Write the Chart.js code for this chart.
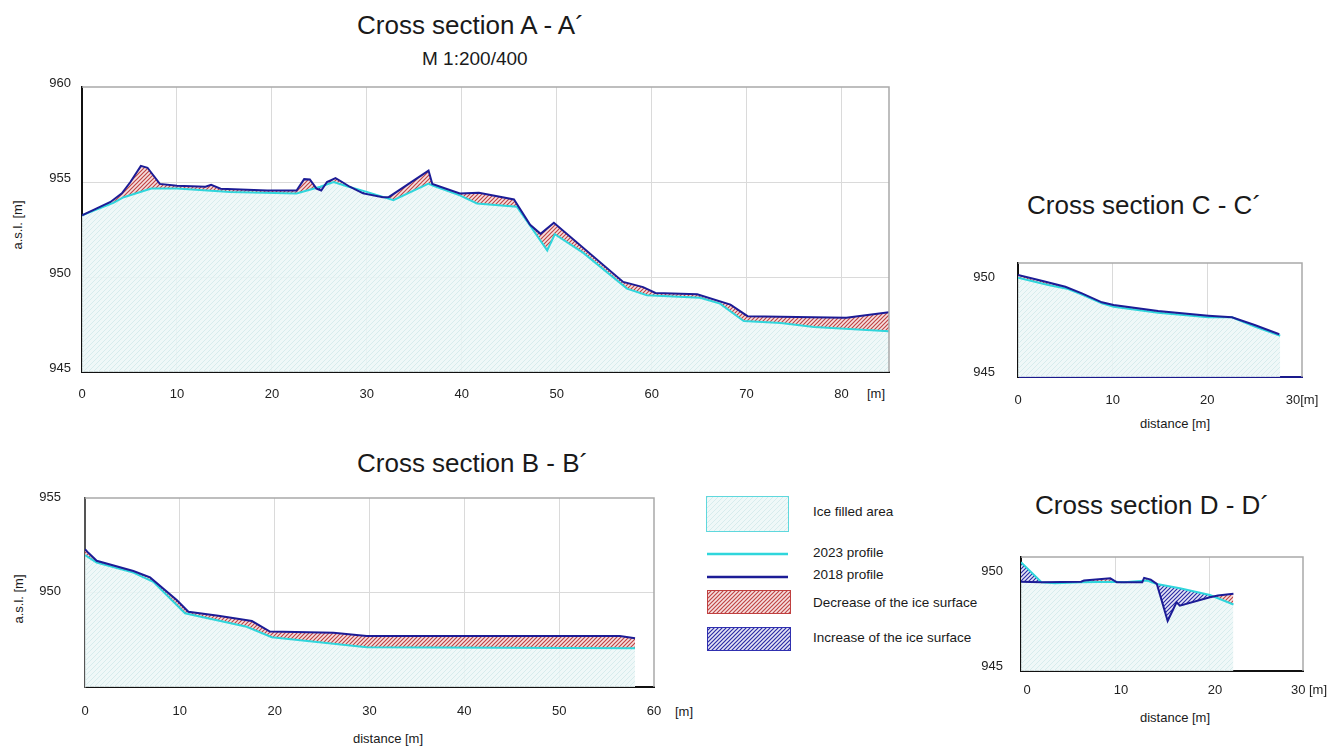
<!DOCTYPE html>
<html>
<head>
<meta charset="utf-8">
<script src="https://cdn.jsdelivr.net/npm/chart.js@4"></script>
<style>
body { margin: 0; width: 1330px; height: 751px; background: #fff; position: relative; overflow: hidden;
       font-family: "Liberation Sans", Arial, sans-serif; color: #1a1a1a; }
canvas { position: absolute; }
.t { position: absolute; white-space: nowrap; line-height: 1; }
.title { font-size: 26px; }
.lab { font-size: 13px; transform: translate(-50%, -50%); }
.rot { font-size: 13px; transform: translate(-50%, -50%) rotate(-90deg); }
.leg { font-size: 13.5px; left: 813px; transform: translateY(-50%); }
</style>
</head>
<body>

<div class="t title" style="left:357px;top:11.5px">Cross section A - A´</div>
<div class="t" style="left:422px;top:49px;font-size:19px">M 1:200/400</div>
<div class="t title" style="left:357px;top:450px">Cross section B - B´</div>
<div class="t title" style="left:1027px;top:191.5px">Cross section C - C´</div>
<div class="t title" style="left:1035px;top:491.5px">Cross section D - D´</div>

<div class="t rot" style="left:16.5px;top:225px">a.s.l. [m]</div>
<div class="t rot" style="left:18px;top:599px">a.s.l. [m]</div>
<div class="t lab" style="left:876px;top:393px">[m]</div>
<div class="t lab" style="left:684px;top:711px">[m]</div>
<div class="t lab" style="left:388px;top:738px">distance [m]</div>
<div class="t lab" style="left:1175px;top:423px">distance [m]</div>
<div class="t lab" style="left:1175px;top:717px">distance [m]</div>

<div class="t leg" style="top:512px">Ice filled area</div>
<div class="t leg" style="top:552.5px">2023 profile</div>
<div class="t leg" style="top:575px">2018 profile</div>
<div class="t leg" style="top:602.5px">Decrease of the ice surface</div>
<div class="t leg" style="top:637.5px">Increase of the ice surface</div>

<canvas id="chartA" width="910" height="360" style="left:0;top:60px"></canvas>
<canvas id="chartB" width="680" height="264" style="left:0;top:466px"></canvas>
<canvas id="chartC" width="386" height="178" style="left:950px;top:232px"></canvas>
<canvas id="chartD" width="374" height="175" style="left:960px;top:530px"></canvas>
<canvas id="legend" width="100" height="170" style="left:700px;top:490px"></canvas>

<script>
// profiles: distance [m] and elevation [m a.s.l.]
const a18x = [0, 1.5, 3, 4.2, 5.1, 6.2, 6.9, 8.2, 10, 13, 13.6, 14.6, 19.5, 22.6, 23.4, 24.0, 24.7, 25.2, 25.8, 26.7, 27.4, 28.2, 29.6, 31.7, 32.3, 36.5, 36.9, 39.8, 41.8, 45.5, 47.2, 48.3, 49.7, 57.0, 59.1, 60.4, 64.8, 68.3, 70.1, 80.5, 85];
const a18y = [953.25, 953.6, 953.95, 954.4, 955.0, 955.85, 955.75, 954.9, 954.8, 954.75, 954.85, 954.65, 954.55, 954.55, 955.15, 955.13, 954.65, 954.55, 955.0, 955.2, 955.0, 954.75, 954.4, 954.2, 954.2, 955.6, 954.9, 954.4, 954.43, 954.08, 952.75, 952.27, 952.85, 949.74, 949.47, 949.16, 949.09, 948.55, 947.94, 947.85, 948.15];
const a23x = [0, 3.3, 4.4, 7.3, 10, 15.6, 22.6, 25.1, 26.5, 27.9, 30.0, 32.8, 36.5, 37.0, 39.8, 41.6, 45.8, 47.2, 49.0, 49.8, 52.8, 57.4, 59.5, 65.1, 67.2, 69.7, 73.6, 77.1, 85];
const a23y = [953.25, 953.9, 954.2, 954.66, 954.66, 954.48, 954.4, 954.75, 955.0, 954.78, 954.48, 954.04, 954.92, 954.8, 954.3, 953.87, 953.7, 952.7, 951.4, 952.25, 951.27, 949.39, 949.04, 948.91, 948.6, 947.68, 947.58, 947.37, 947.15];

const b18x = [0, 0.35, 1.23, 5.1, 6.86, 9.67, 10.9, 14.06, 17.6, 19.5, 26.2, 29.7, 56.4, 58.0];
const b18y = [952.29, 952.1, 951.68, 951.14, 950.8, 949.6, 948.98, 948.77, 948.49, 947.93, 947.87, 947.7, 947.7, 947.58];
const b23x = [0, 1.23, 5.1, 7.2, 10.55, 17.05, 19.7, 29.7, 58.0];
const b23y = [951.98, 951.58, 951.05, 950.57, 948.9, 948.19, 947.63, 947.1, 947.05];

const c18x = [0, 2.5, 5.0, 6.75, 8.86, 10.1, 14.8, 20.1, 22.6, 25.0, 27.6];
const c18y = [950.37, 950.07, 949.75, 949.4, 948.93, 948.79, 948.47, 948.23, 948.14, 947.74, 947.25];
const c23x = [0, 3.2, 5.3, 6.75, 8.86, 10.1, 14.8, 20.1, 22.6, 25.0, 27.7];
const c23y = [950.23, 949.84, 949.63, 949.34, 948.88, 948.7, 948.38, 948.14, 948.14, 947.65, 947.17];

const d18x = [0, 2.18, 6.4, 6.7, 9.5, 10.2, 11.3, 12.9, 13.1, 13.8, 14.45, 15.6, 16.55, 16.9, 20.1, 20.95, 22.6];
const d18y = [949.7, 949.67, 949.7, 949.76, 949.88, 949.67, 949.67, 949.67, 949.9, 949.81, 949.58, 947.63, 948.62, 948.44, 948.88, 948.97, 949.07];
const d23x = [0, 2.18, 3.6, 6.4, 9.9, 10.95, 13.4, 14.45, 16.9, 20.1, 22.6];
const d23y = [950.72, 949.67, 949.62, 949.67, 949.7, 949.67, 949.76, 949.58, 949.35, 949.0, 948.5];

const NAVY = '#1c1c96';
const CYAN = '#2fd6dc';

Chart.defaults.font.family = '"Liberation Sans", Arial, sans-serif';

function hatch(bg, line, size, width) {
    const c = document.createElement('canvas');
    c.width = c.height = size;
    const g = c.getContext('2d');
    g.fillStyle = bg;
    g.fillRect(0, 0, size, size);
    g.strokeStyle = line;
    g.lineWidth = width;
    g.beginPath();
    g.moveTo(0, size); g.lineTo(size, 0);
    g.moveTo(-1, 1); g.lineTo(1, -1);
    g.moveTo(size - 1, size + 1); g.lineTo(size + 1, size - 1);
    g.stroke();
    return g.createPattern(c, 'repeat');
}

const iceHatch = hatch('rgba(236,247,247,0.85)', 'rgba(212,235,236,0.85)', 5, 1);
const redHatch = hatch('#f6e0e0', '#bf4444', 4, 1.2);
const blueHatch = hatch('#e6e6f6', '#2c2ca4', 4, 1.2);

// grey top / right edge of each plot frame
const framePlugin = {
    id: 'frame',
    afterDraw(chart) {
        const { ctx, chartArea: a } = chart;
        ctx.save();
        ctx.strokeStyle = '#a9a9a9';
        ctx.lineWidth = 1.5;
        ctx.beginPath();
        ctx.moveTo(a.left, a.top);
        ctx.lineTo(a.right, a.top);
        ctx.lineTo(a.right, a.bottom);
        ctx.stroke();
        ctx.restore();
    }
};

const pts = (xs, ys) => xs.map((x, i) => ({ x: x, y: ys[i] }));

function section(id, s18, s23, o) {
    new Chart(document.getElementById(id), {
        type: 'line',
        data: {
            datasets: [
                {
                    label: '2018 profile',
                    data: s18,
                    borderColor: NAVY,
                    borderWidth: 2,
                    pointRadius: 0,
                    tension: 0,
                    fill: { target: 1, above: redHatch, below: blueHatch }
                },
                {
                    label: '2023 profile',
                    data: s23,
                    borderColor: CYAN,
                    borderWidth: 2,
                    pointRadius: 0,
                    tension: 0,
                    fill: 'start',
                    backgroundColor: iceHatch
                }
            ]
        },
        options: {
            responsive: false,
            animation: false,
            events: [],
            layout: { padding: { top: o.padTop, right: o.padRight, left: 0, bottom: 0 } },
            plugins: {
                legend: { display: false },
                tooltip: { enabled: false },
                filler: { drawTime: 'beforeDatasetsDraw' }
            },
            scales: {
                x: {
                    type: 'linear',
                    min: 0,
                    max: o.xMax,
                    afterFit: s => { s.height = o.hx; },
                    border: { color: o.bottomColor || '#111', width: 2 },
                    grid: {
                        drawTicks: false,
                        lineWidth: 1,
                        color: c => (c.tick && o.xGrid.includes(c.tick.value)) ? '#dadada' : 'rgba(0,0,0,0)'
                    },
                    ticks: {
                        stepSize: 10,
                        includeBounds: false,
                        autoSkip: false,
                        maxRotation: 0,
                        padding: o.xPad,
                        labelOffset: o.xOff || 0,
                        color: '#222',
                        font: { size: 13 },
                        callback: o.xCb || (v => v)
                    }
                },
                y: {
                    type: 'linear',
                    min: o.yMin,
                    max: o.yMax,
                    afterFit: s => { s.width = o.wy; },
                    border: { color: o.leftColor || '#111', width: 2 },
                    grid: {
                        drawTicks: false,
                        lineWidth: 1,
                        color: c => (c.tick && o.yGrid.includes(c.tick.value)) ? '#dadada' : 'rgba(0,0,0,0)'
                    },
                    ticks: {
                        stepSize: 5,
                        includeBounds: false,
                        padding: o.yPad,
                        labelOffset: o.yOff,
                        color: '#222',
                        font: { size: 13 },
                        callback: v => o.yShow.includes(v) ? v : ''
                    }
                }
            }
        },
        plugins: [framePlugin]
    });
}

section('chartA', pts(a18x, a18y), pts(a23x, a23y), {
    xMax: 85, yMin: 945, yMax: 960, wy: 82, hx: 48, padTop: 27, padRight: 21,
    xPad: 15, yPad: 11, yOff: -4,
    xGrid: [10, 20, 30, 40, 50, 60, 70, 80], yGrid: [950, 955], yShow: [945, 950, 955, 960]
});

section('chartB', pts(b18x, b18y), pts(b23x, b23y), {
    xMax: 60, yMin: 945, yMax: 955, wy: 85, hx: 43, padTop: 32, padRight: 26,
    xPad: 17, yPad: 24, yOff: -1, leftColor: '#555',
    xGrid: [10, 20, 30, 40, 50], yGrid: [950], yShow: [950, 955]
});

section('chartC', pts(c18x, c18y), pts(c23x, c23y), {
    xMax: 30, yMin: 945, yMax: 951, wy: 68, hx: 33, padTop: 31, padRight: 34,
    xPad: 16, yPad: 23, yOff: -4.5, bottomColor: '#1a1a8c',
    xGrid: [10, 20], yGrid: [], yShow: [945, 950],
    xCb: v => v === 30 ? '30[m]' : v
});

section('chartD', pts(d18x, d18y), pts(d23x, d23y), {
    xMax: 30, yMin: 945, yMax: 951, wy: 61, hx: 34, padTop: 27, padRight: 31,
    xPad: 12, xOff: 6, yPad: 18, yOff: -5,
    xGrid: [10, 20], yGrid: [], yShow: [945, 950],
    xCb: v => v === 30 ? '30 [m]' : v
});

// legend swatches (canvas origin at 700, 490)
(function drawLegend() {
    const g = document.getElementById('legend').getContext('2d');
    g.fillStyle = iceHatch;
    g.fillRect(6.5, 6.5, 82, 35);
    g.strokeStyle = '#5fd8dd';
    g.lineWidth = 1;
    g.strokeRect(6.5, 6.5, 82, 35);

    g.lineWidth = 2.5;
    g.strokeStyle = CYAN;
    g.beginPath(); g.moveTo(7, 64); g.lineTo(88, 64); g.stroke();
    g.strokeStyle = NAVY;
    g.beginPath(); g.moveTo(7, 87); g.lineTo(88, 87); g.stroke();

    g.lineWidth = 1;
    g.fillStyle = redHatch;
    g.fillRect(7.5, 100.5, 83, 23);
    g.strokeStyle = '#c04040';
    g.strokeRect(7.5, 100.5, 83, 23);

    g.fillStyle = blueHatch;
    g.fillRect(7.5, 137.5, 83, 23);
    g.strokeStyle = '#3030b0';
    g.strokeRect(7.5, 137.5, 83, 23);
})();
</script>
</body>
</html>
